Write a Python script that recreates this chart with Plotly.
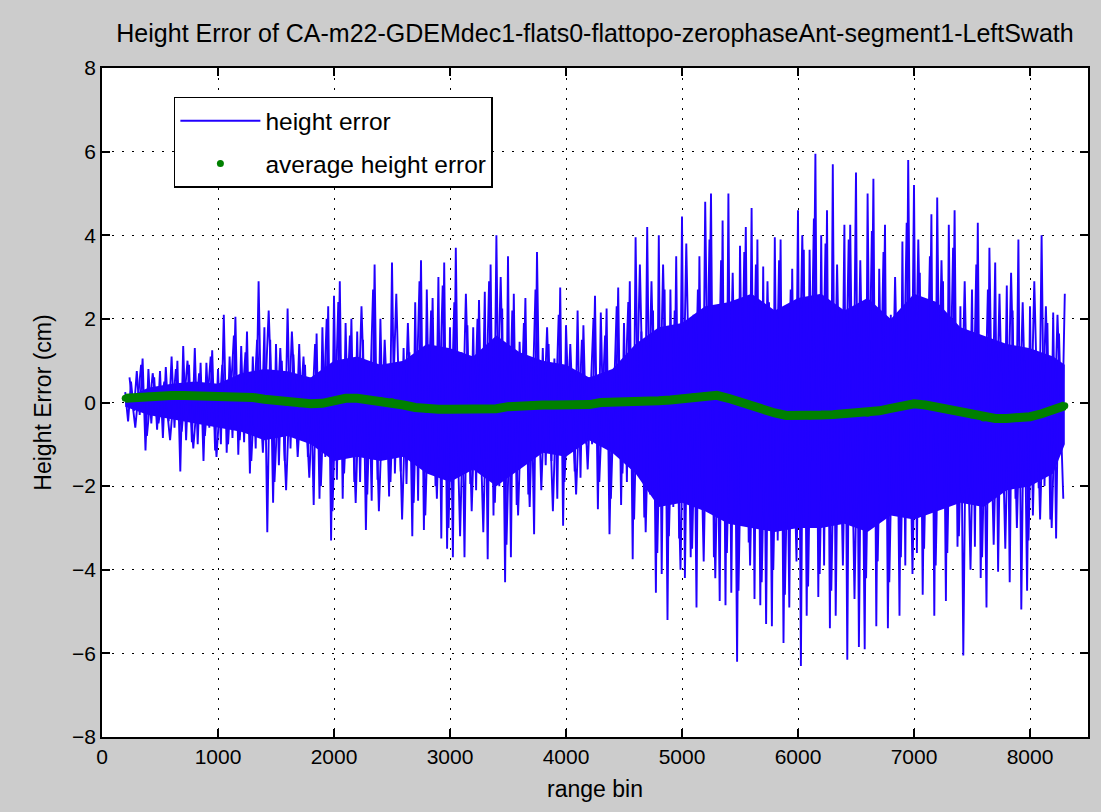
import plotly.graph_objects as go

# ---------------- data ----------------
# tallest spikes: positive peaks and negative troughs of the height error
peak_bins = list(range(200, 8301, 50))
peak_vals = [
    0.25, 0.5, 0.75, 1.05, 0.8, 0.6, 0.75, 0.85, 1.1, 1.0,
    1.35, 0.9, 1.3, 0.95, 0.95, 1.25, 0.8, 2.1, 1.1, 2.05,
    1.35, 1.7, 1.1, 2.9, 1.8, 1.5, 1.4, 1.0, 2.25, 1.15,
    1.4, 0.9, 0.6, 1.65, 1.8, 2.3, 2.55, 2.9, 1.9, 2.0,
    1.7, 1.5, 0.9, 3.3, 2.0, 0.6, 3.35, 0.8, 1.3, 1.2,
    2.4, 3.4, 2.7, 2.5, 3.0, 3.35, 1.8, 3.7, 1.2, 1.85,
    1.8, 2.45, 2.65, 3.3, 4.0, 2.25, 3.5, 2.6, 1.45, 2.5,
    1.0, 3.6, 1.3, 1.4, 1.05, 2.75, 1.85, 0.5, 2.2, 1.85,
    0.6, 2.55, 2.15, 2.25, 0.5, 2.75, 1.9, 2.9, 3.95, 1.7,
    4.2, 2.2, 4.0, 2.7, 2.7, 3.5, 4.45, 0.95, 2.1, 3.5,
    4.8, 5.0, 1.4, 4.35, 5.0, 2.4, 3.75, 4.2, 4.65, 3.9,
    3.25, 2.4, 3.95, 3.9, 1.6, 3.2, 4.6, 3.65, 3.65, 5.95,
    4.0, 4.6, 5.7, 0.85, 4.25, 4.25, 5.5, 1.4, 5.0, 5.35,
    3.2, 4.25, 2.1, 2.0, 3.85, 5.8, 5.2, 3.1, 1.5, 4.5,
    4.9, 2.9, 4.25, 4.6, 2.3, 0.6, 2.7, 4.3, 0.95, 3.7,
    3.35, 0.8, 2.8, 2.2, 3.9, 1.0, 2.3, 0.4, 4.0, 1.9,
    2.15, 1.65, 2.6,
]

trough_bins = list(range(225, 8276, 50))
trough_vals = [
    -0.45, -0.2, -0.3, -1.15, -0.5, -0.65, -0.85, -0.45, -0.6, -1.65,
    -0.9, -0.95, -1.0, -1.4, -0.6, -1.15, -1.0, -1.2, -0.85, -1.25,
    -0.95, -1.7, -1.1, -0.8, -3.1, -2.4, -1.5, -1.4, -1.1, -0.75,
    -0.8, -1.3, -2.45, -2.3, -1.3, -3.3, -1.85, -2.3, -1.2, -1.9,
    -1.9, -3.05, -2.35, -1.85, -1.2, -2.25, -1.7, -1.65, -1.95, -3.2,
    -2.35, -3.05, -1.5, -2.0, -3.25, -3.5, -3.7, -1.65, -3.7, -1.95,
    -2.1, -1.3, -3.75, -2.7, -2.0, -4.3, -3.7, -2.45, -0.8, -2.2,
    -3.15, -1.2, -1.5, -1.4, -2.3, -2.95, -0.3, -1.65, -1.8, -1.0,
    -1.0, -2.55, -1.0, -3.15, -1.1, -2.45, -1.9, -3.75, -1.4, -2.75,
    -2.2, -4.55, -4.1, -5.2, -2.5, -3.25, -4.2, -3.7, -4.9, -2.5,
    -0.65, -3.7, -4.75, -4.85, -4.55, -6.2, -1.5, -3.35, -4.7, -4.85,
    -5.3, -5.35, -3.3, -5.75, -4.9, -2.8, -6.3, -5.1, -1.4, -4.65,
    -3.9, -5.4, -5.1, -1.9, -6.15, -1.35, -5.85, -5.9, -2.2, -5.35,
    -1.1, -5.4, -2.5, -5.1, -3.9, -1.8, -3.6, -4.6, -1.7, -5.1,
    -1.6, -4.75, -2.2, -3.45, -6.05, -2.05, -3.45, -4.2, -4.9, -0.9,
    -4.05, -2.2, -4.3, -2.3, -4.95, -4.5, -2.7, -2.05, -2.0, -2.8,
    -3.25, -1.0,
]

# medium-height spikes in the dense fringe
mid_pos_bins = list(range(237, 8238, 100))
mid_pos_vals = [
    0.6, 0.9, 0.7, 0.5, 0.8,
    1.0, 0.7, 1.1, 0.9, 1.6,
    1.2, 1.5, 2.2, 1.3, 1.7,
    1.1, 1.4, 2.0, 2.4, 1.6,
    2.3, 2.7, 1.5, 2.6, 1.9,
    2.9, 2.2, 2.8, 2.4, 2.6,
    2.0, 2.9, 3.0, 2.2, 1.9,
    2.7, 1.8, 2.1, 1.4, 1.5,
    2.0, 1.6, 2.3, 2.4, 3.3,
    2.9, 3.3, 2.2, 3.8, 2.7,
    3.9, 3.4, 3.1, 3.6, 3.3,
    2.9, 3.4, 2.7, 4.0, 4.4,
    3.8, 3.3, 3.9, 3.4, 4.1,
    3.6, 3.0, 4.3, 3.9, 3.5,
    3.4, 3.7, 2.9, 3.3, 2.7,
    2.6, 3.1, 2.4, 2.9, 2.3,
    2.1,
]
mid_neg_bins = list(range(287, 8288, 100))
mid_neg_vals = [
    -0.6, -0.8, -0.5, -0.9, -0.7,
    -1.1, -0.8, -1.3, -1.0, -0.9,
    -1.4, -1.2, -1.9, -2.1, -1.3,
    -1.8, -2.0, -2.6, -1.7, -2.4,
    -2.2, -2.6, -1.9, -2.8, -2.4,
    -2.7, -2.3, -3.0, -3.2, -2.6,
    -3.1, -2.4, -3.4, -2.7, -2.5,
    -2.1, -2.6, -1.9, -2.2, -1.6,
    -1.9, -2.3, -1.7, -2.8, -3.1,
    -3.6, -3.2, -4.0, -3.5, -3.8,
    -4.2, -3.6, -4.5, -3.9, -4.3,
    -4.0, -4.6, -3.8, -4.4, -4.1,
    -4.5, -3.9, -4.7, -4.2, -3.8,
    -4.3, -3.7, -4.1, -3.5, -3.9,
    -3.6, -3.2, -4.0, -3.7, -3.4,
    -3.5, -3.0, -3.3, -2.8, -3.0,
    -2.3,
]

# solid (dense) core of the noisy signal, upper and lower boundary
core_bins = [200, 400, 600, 800, 1000, 1200, 1400, 1600, 1800, 2000,
             2200, 2400, 2600, 2800, 3000, 3200, 3400, 3600, 3800, 4000,
             4200, 4400, 4600, 4800, 5000, 5200, 5400, 5600, 5800, 6000,
             6200, 6400, 6600, 6800, 7000, 7200, 7400, 7600, 7800, 8000,
             8200, 8300]
core_upper = [0.1, 0.35, 0.45, 0.5, 0.45, 0.7, 0.8, 0.75, 0.6, 1.0,
              1.1, 0.9, 1.0, 1.4, 1.3, 1.1, 1.6, 1.2, 1.0, 0.9,
              0.6, 0.8, 1.4, 1.8, 1.9, 2.3, 2.4, 2.6, 2.2, 2.5,
              2.6, 2.2, 2.5, 2.0, 2.6, 2.4, 1.8, 1.6, 1.4, 1.3,
              1.1, 0.9]
core_lower = [-0.1, -0.3, -0.4, -0.5, -0.6, -0.7, -0.9, -0.8, -1.0, -1.4,
              -1.3, -1.4, -1.3, -1.7, -1.9, -1.6, -2.0, -1.6, -1.2, -1.3,
              -0.9, -1.2, -1.7, -2.5, -2.4, -2.6, -2.9, -3.0, -3.1, -3.0,
              -3.0, -2.9, -3.1, -2.7, -2.8, -2.6, -2.4, -2.5, -2.1, -2.0,
              -1.7, -1.0]

avg_bins = list(range(200, 8301, 100))
avg_vals = [
    0.10, 0.13, 0.15, 0.17, 0.17, 0.17, 0.17, 0.17, 0.16,
    0.12, 0.12, 0.12, 0.08, 0.04, 0.0, -0.03, -0.03, -0.02, 0.04,
    0.10, 0.10, 0.07, 0.05, 0.02, -0.06, -0.12, -0.16, -0.16, -0.16,
    -0.16, -0.16, -0.16, -0.15, -0.10, -0.07, -0.06, -0.06, -0.06, -0.06,
    -0.07, -0.05, 0.0, 0.0, 0.0, 0.03, 0.04, 0.04, 0.06, 0.10,
    0.14, 0.17, 0.17, 0.10, 0.0, -0.08, -0.17, -0.25, -0.31, -0.32,
    -0.32, -0.30, -0.29, -0.27, -0.26, -0.26, -0.20, -0.14, -0.07, -0.03,
    -0.06, -0.12, -0.17, -0.24, -0.30, -0.37, -0.38, -0.38, -0.38, -0.34,
    -0.27, -0.18, -0.08,
]

x_ticks = [0, 1000, 2000, 3000, 4000, 5000, 6000, 7000, 8000]
y_ticks = [-8, -6, -4, -2, 0, 2, 4, 6, 8]

TITLE = "Height Error of CA-m22-GDEMdec1-flats0-flattopo-zerophaseAnt-segment1-LeftSwath"


# ---------------- build ----------------
def interleave(xa, ya, xb, yb):
    xs, ys = [], []
    for i in range(len(xa)):
        xs.append(xa[i]); ys.append(ya[i])
        if i < len(xb):
            xs.append(xb[i]); ys.append(yb[i])
    return xs, ys


zig_x, zig_y = interleave(peak_bins, peak_vals, trough_bins, trough_vals)
mid_x, mid_y = interleave(mid_pos_bins, mid_pos_vals, mid_neg_bins, mid_neg_vals)

BLUE = "#2200ff"
GREEN = "#008000"
FONT = "Liberation Sans, Arial, sans-serif"

fig = go.Figure()
fig.add_trace(go.Scatter(
    x=core_bins + core_bins[::-1], y=core_upper + core_lower[::-1],
    fill="toself", fillcolor=BLUE, mode="lines", line=dict(width=0, color=BLUE),
    showlegend=False, hoverinfo="skip", legendgroup="a"))
fig.add_trace(go.Scatter(
    x=mid_x, y=mid_y, mode="lines", line=dict(color=BLUE, width=1.9),
    showlegend=False, hoverinfo="skip", legendgroup="a"))
fig.add_trace(go.Scatter(
    x=zig_x, y=zig_y, mode="lines", name="height error",
    line=dict(color=BLUE, width=1.9), legendgroup="a"))
fig.add_trace(go.Scatter(
    x=avg_bins, y=avg_vals, mode="lines", line=dict(color=GREEN, width=9),
    showlegend=False, hoverinfo="skip", legendgroup="b"))
fig.add_trace(go.Scatter(
    x=avg_bins, y=avg_vals, mode="markers", name="average height error",
    marker=dict(color=GREEN, size=7), legendgroup="b"))

axis_common = dict(
    showline=True, linecolor="black", linewidth=1.5, mirror="ticks",
    ticks="inside", ticklen=8, tickwidth=1.5, tickcolor="black",
    showgrid=True, gridcolor="black", gridwidth=1, griddash="2px,8px",
    zeroline=False, tickfont=dict(family=FONT, size=21, color="black"),
)

fig.update_layout(
    width=1101, height=812,
    paper_bgcolor="#cccccc", plot_bgcolor="white",
    margin=dict(l=102, r=11, t=68, b=75),
    font=dict(family=FONT, color="black"),
    title=dict(text=TITLE, x=0.5, xref="paper", xanchor="center",
               y=1 - 33 / 812, yref="container", yanchor="middle",
               font=dict(family=FONT, size=25, color="black")),
    xaxis=dict(range=[0, 8500], tickvals=x_ticks,
               title=dict(text="range bin", font=dict(family=FONT, size=23), standoff=14),
               **axis_common),
    yaxis=dict(range=[-8, 8], tickvals=y_ticks,
               title=dict(text="Height Error (cm)", font=dict(family=FONT, size=23), standoff=14),
               **axis_common),
    legend=dict(x=0.0729, y=0.957, xanchor="left", yanchor="top",
                bgcolor="white", bordercolor="black", borderwidth=1.5,
                font=dict(family=FONT, size=24.5, color="black"),
                itemwidth=80, traceorder="grouped", tracegroupgap=8),
    showlegend=True,
)

fig.write_html("out.html")
